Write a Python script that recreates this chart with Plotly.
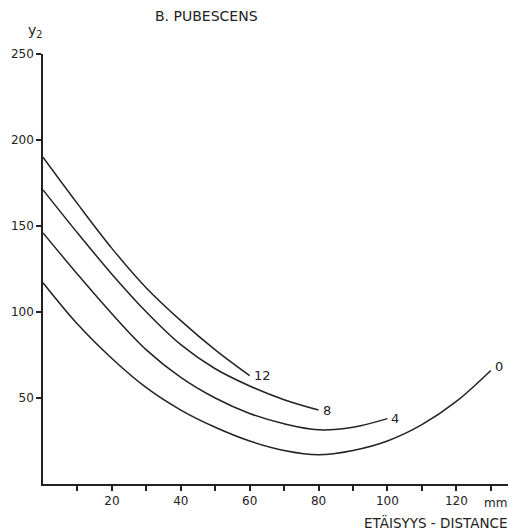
import plotly.graph_objects as go

# Distance (mm) sample points and y2 values for each curve (label = curve tag)
x_c0 = [0, 10, 20, 30, 40, 50, 60, 70, 80, 90, 100, 110, 120, 130]
y_c0 = [117, 93, 73, 56, 43, 33, 25, 19.5, 17, 19.5, 25, 34.5, 48, 66]

x_c4 = [0, 10, 20, 30, 40, 50, 60, 70, 80, 90, 100]
y_c4 = [146, 122, 99, 78, 62, 50, 41, 35, 31.5, 33, 38]

x_c8 = [0, 10, 20, 30, 40, 50, 60, 70, 80]
y_c8 = [171, 146, 122, 100, 81, 67, 57, 49, 43]

x_c12 = [0, 10, 20, 30, 40, 50, 60]
y_c12 = [190, 163, 137, 114, 95, 78, 63]

curves = [("0", x_c0, y_c0), ("4", x_c4, y_c4), ("8", x_c8, y_c8), ("12", x_c12, y_c12)]

x_major = [20, 40, 60, 80, 100, 120]
x_minor = [10, 30, 50, 70, 90, 110, 130]
y_tickvals = [50, 100, 150, 200, 250]

title_text = "B. PUBESCENS"
y_label = "y<sub>2</sub>"
x_unit = "mm"
x_label = "ETÄISYYS - DISTANCE"

ink = "#222222"
FAM = "DejaVu Sans"
font = dict(family=FAM, size=12, color=ink)

W, H = 514, 532
L, R, T, B = 43, 6, 54, 48


def paper_x(px):
    return (px - L) / (W - L - R)


def paper_y(py):
    return (H - B - py) / (H - T - B)


fig = go.Figure()
anns = []
for name, xs, ys in curves:
    fig.add_trace(go.Scatter(x=xs, y=ys, mode="lines",
                             line=dict(color=ink, width=1.5, shape="spline", smoothing=1.0),
                             showlegend=False, hoverinfo="skip"))
    anns.append(dict(x=xs[-1], y=ys[-1], text=name, showarrow=False, xref="x", yref="y",
                     xanchor="left", yanchor="middle", xshift=2, yshift=(4 if name == "0" else 0),
                     font=dict(family=FAM, size=13, color=ink)))

anns.append(dict(x=paper_x(153), y=paper_y(16), xref="paper", yref="paper", text=title_text, showarrow=False,
                 xanchor="left", yanchor="middle", font=dict(family=FAM, size=14, color=ink)))
anns.append(dict(x=paper_x(26), y=paper_y(31), xref="paper", yref="paper", text=y_label, showarrow=False,
                 xanchor="left", yanchor="middle", font=dict(family=FAM, size=14, color=ink)))
anns.append(dict(x=paper_x(509), y=paper_y(503), xref="paper", yref="paper", text=x_unit, showarrow=False,
                 xanchor="right", yanchor="middle", font=dict(family=FAM, size=12, color=ink)))
anns.append(dict(x=paper_x(509), y=paper_y(522), xref="paper", yref="paper", text=x_label, showarrow=False,
                 xanchor="right", yanchor="middle", font=dict(family=FAM, size=13.5, color=ink)))

fig.update_layout(
    width=W, height=H,
    margin=dict(l=L, r=R, t=T, b=B, autoexpand=False),
    paper_bgcolor="white", plot_bgcolor="white",
    font=font,
    annotations=anns,
    xaxis=dict(range=[0, 135], showgrid=False, zeroline=False, showline=True, linecolor=ink, linewidth=1.5,
               ticks="outside", ticklen=5, tickwidth=1.5, tickcolor=ink,
               tickvals=x_major, tickfont=font, automargin=False,
               minor=dict(tickvals=x_minor, ticks="outside", ticklen=5, tickwidth=1.5, tickcolor=ink,
                          showgrid=False)),
    yaxis=dict(range=[0, 250], showgrid=False, zeroline=False, showline=True, linecolor=ink, linewidth=1.5,
               ticks="outside", ticklen=5, tickwidth=1.5, tickcolor=ink,
               tickvals=y_tickvals, tickfont=font, automargin=False),
)

fig.write_html("out.html", config={"displayModeBar": False},
               post_script="document.body.style.margin='0';document.body.style.overflow='hidden';")
